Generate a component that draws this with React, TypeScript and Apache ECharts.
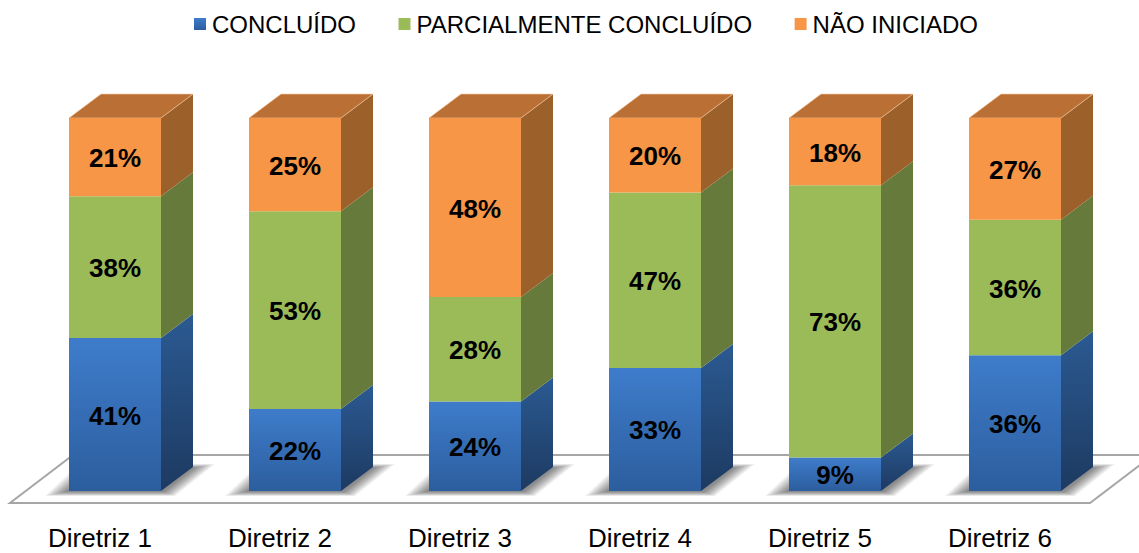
import React, { useEffect, useRef } from "react";
import * as echarts from "echarts";

const categories = ["Diretriz 1", "Diretriz 2", "Diretriz 3", "Diretriz 4", "Diretriz 5", "Diretriz 6"];
const concluido = [41, 22, 24, 33, 9, 36];
const parcial = [38, 53, 28, 47, 73, 36];
const naoIniciado = [21, 25, 48, 20, 18, 27];
const seriesNames = ["CONCLUÍDO", "PARCIALMENTE CONCLUÍDO", "NÃO INICIADO"];

const FONT = '"Liberation Sans", Arial, sans-serif';
const DX = 32;
const DY = 24;
const BAR_RATIO = 92 / 180;
const SHADOW_LAYERS = 10;

type Pal = { front: [string, string]; side: [string, string]; top: string; edge: string };
const palettes: Pal[] = [
  { front: ["#3E7CCB", "#2C5E9E"], side: ["#2B5A92", "#1D3A61"], top: "#2E5F97", edge: "#4A85CF" },
  { front: ["#9BBB59", "#9BBB59"], side: ["#667B3B", "#667B3B"], top: "#7B9645", edge: "#A8C46C" },
  { front: ["#F79646", "#F79646"], side: ["#9C602B", "#9C602B"], top: "#BA7034", edge: "#FAC9A5" },
];

const vGrad = (a: string, b: string) =>
  new echarts.graphic.LinearGradient(0, 0, 0, 1, [
    { offset: 0, color: a },
    { offset: 1, color: b },
  ]);

const stacks = [concluido, parcial, naoIniciado];
const rows = stacks.map((vals, s) =>
  vals.map((v, i) => {
    const total = stacks.reduce((acc, arr) => acc + arr[i], 0);
    let before = 0;
    for (let k = 0; k < s; k++) before += stacks[k][i];
    return [i, (before / total) * 100, ((before + v) / total) * 100, v];
  })
);

function renderBar(s: number) {
  const pal = palettes[s];
  return (_params: any, api: any) => {
    const i = api.value(0);
    const start = api.value(1);
    const end = api.value(2);
    const raw = api.value(3);
    const pBase = api.coord([i, start]);
    const pTop = api.coord([i, end]);
    const w = api.size([1, 0])[0] * BAR_RATIO;
    const x0 = pBase[0] - w / 2;
    const x1 = pBase[0] + w / 2;
    const yb = pBase[1];
    const yt = pTop[1];
    const children: any[] = [
      {
        type: "polygon",
        shape: { points: [[x1, yb], [x1 + DX, yb - DY], [x1 + DX, yt - DY], [x1, yt]] },
        style: { fill: vGrad(pal.side[0], pal.side[1]) },
      },
    ];
    if (end >= 99.9) {
      children.push({
        type: "polygon",
        shape: { points: [[x0, yt], [x0 + DX, yt - DY], [x1 + DX, yt - DY], [x1, yt]] },
        style: { fill: pal.top, stroke: pal.edge, lineWidth: 0.6 },
      });
    }
    children.push({
      type: "rect",
      shape: { x: x0, y: yt, width: w, height: yb - yt },
      style: { fill: vGrad(pal.front[0], pal.front[1]) },
    });
    children.push({
      type: "text",
      style: {
        x: pBase[0],
        y: (yb + yt) / 2 + 1,
        text: raw + "%",
        fill: "#000",
        font: `bold 26px ${FONT}`,
        align: "center",
        verticalAlign: "middle",
      },
    });
    return { type: "group", children };
  };
}

function renderShadow(_params: any, api: any) {
  const i = api.value(0);
  const p = api.coord([i, 0]);
  const w = api.size([1, 0])[0] * BAR_RATIO;
  const x0 = p[0] - w / 2;
  const x1 = p[0] + w / 2;
  const y = p[1];
  const children: any[] = [];
  for (let k = 0; k < SHADOW_LAYERS; k++) {
    const blx = x0 - 24 + 2.2 * k;
    const brx = x1 + 14 - 1.2 * k;
    const trx = x1 + DX + 22 - 2.2 * k;
    const tlx = x0 + 10 + 2 * k;
    const by = y + 5 - 0.45 * k;
    const ty = y - DY - 3 + 0.4 * k;
    children.push({
      type: "polygon",
      shape: { points: [[blx, by], [brx, by], [trx, ty], [tlx, ty]] },
      style: { fill: "rgba(0,0,0,0.055)" },
    });
  }
  return { type: "group", children };
}

function renderFloor(params: any) {
  const c = params.coordSys;
  const yb = c.y + c.height + 12;
  const yt = c.y + c.height - 36;
  const lx = c.x - 15;
  const rx = c.x + c.width - 15;
  return {
    type: "polygon",
    shape: { points: [[lx, yb], [rx, yb], [rx + 63, yt], [lx + 63, yt]] },
    style: { fill: "#FFFFFF", stroke: "#A6A6A6", lineWidth: 2 },
  };
}

export default function App() {
  const ref = useRef<HTMLDivElement>(null);
  useEffect(() => {
    const chart = echarts.init(ref.current!, undefined, { renderer: "svg" });
    chart.setOption({
      animation: false,
      backgroundColor: "#FFFFFF",
      legend: {
        data: seriesNames,
        left: 189,
        top: 7,
        itemWidth: 12,
        itemHeight: 12,
        itemGap: 42.5,
        icon: "rect",
        textStyle: { fontFamily: FONT, fontSize: 24, color: "#000", padding: [0, 0, 0, 1] },
      },
      grid: { left: 25, top: 118, width: 1080, height: 373 },
      xAxis: {
        type: "category",
        data: categories,
        axisLine: { show: false },
        axisTick: { show: false },
        axisLabel: {
          fontFamily: FONT,
          fontSize: 26,
          lineHeight: 20,
          color: "#000",
          margin: 37,
          padding: [0, 30, 0, 0],
        },
      },
      yAxis: { type: "value", min: 0, max: 100, show: false, splitLine: { show: false } },
      series: [
        { type: "custom", name: "floor", silent: true, z: 1, renderItem: renderFloor, data: [[0]], encode: { x: 0 } },
        {
          type: "custom",
          name: "shadow",
          silent: true,
          z: 2,
          renderItem: renderShadow,
          data: categories.map((_, i) => [i, 0]),
          encode: { x: 0, y: 1 },
        },
        ...seriesNames.map((name, s) => ({
          type: "custom",
          name,
          z: 3 + s,
          itemStyle: { color: vGrad(palettes[s].front[0], palettes[s].front[1]) },
          renderItem: renderBar(s),
          data: rows[s],
          encode: { x: 0, y: [1, 2] },
        })),
      ],
    });
    return () => chart.dispose();
  }, []);
  return <div ref={ref} style={{ position: "fixed", left: 0, top: 0, width: 1139, height: 553 }} />;
}
